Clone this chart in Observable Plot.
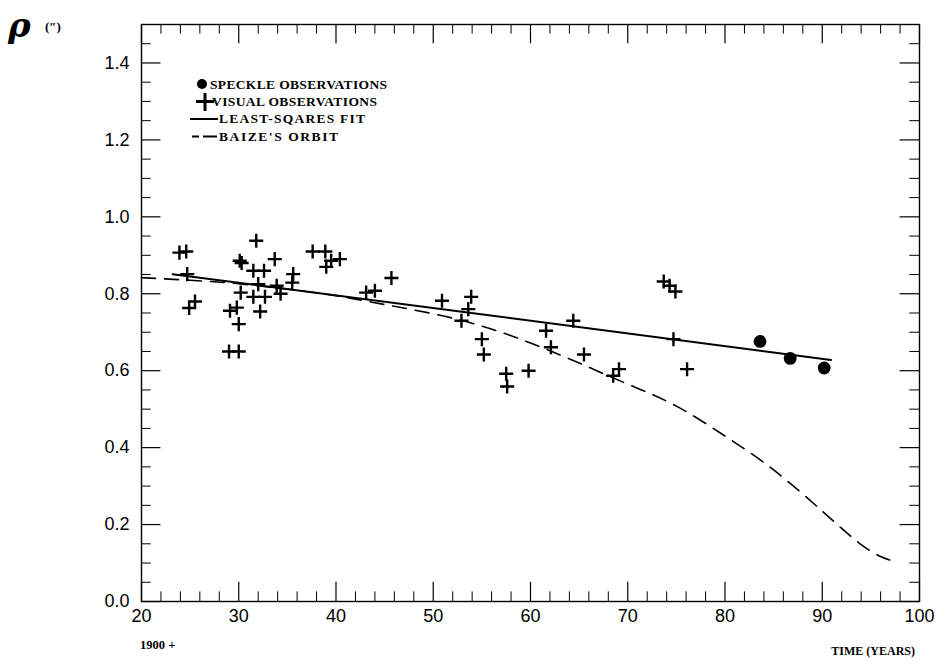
<!DOCTYPE html>
<html><head><meta charset="utf-8">
<script src="https://cdn.jsdelivr.net/npm/d3@7"></script>
<script src="https://cdn.jsdelivr.net/npm/@observablehq/plot@0.6"></script>
<style>body{margin:0;background:#fff}#chart{position:relative;width:943px;height:665px}</style>
</head><body><div id="chart"></div>
<script>
// ---- data ----
const speckleYears = [83.6, 86.7, 90.2];
const speckleRho   = [0.676, 0.632, 0.607];

const visualYears = [23.9, 24.6, 24.7, 24.9, 25.5, 30.1, 30.3, 31.8, 31.5, 32.6, 33.7, 32.0, 30.2, 31.5, 32.7, 33.9, 34.3, 35.6, 35.5, 29.1, 29.8, 30.0, 32.2, 29.0, 30.0, 37.6, 38.9, 39.5, 40.4, 39.0, 43.1, 44.0, 45.7, 50.9, 53.9, 53.6, 52.9, 55.0, 55.2, 57.5, 57.6, 59.8, 61.6, 62.1, 64.4, 65.5, 68.5, 69.1, 73.7, 74.3, 74.9, 74.7, 76.1];
const visualRho   = [0.907, 0.910, 0.851, 0.763, 0.780, 0.886, 0.880, 0.938, 0.860, 0.860, 0.890, 0.825, 0.803, 0.792, 0.792, 0.821, 0.800, 0.851, 0.829, 0.756, 0.764, 0.721, 0.754, 0.650, 0.650, 0.910, 0.910, 0.886, 0.890, 0.870, 0.803, 0.808, 0.841, 0.782, 0.792, 0.760, 0.730, 0.682, 0.642, 0.592, 0.559, 0.600, 0.704, 0.661, 0.730, 0.642, 0.587, 0.604, 0.832, 0.821, 0.806, 0.682, 0.604];

const fitYears = [23.2, 90.9];
const fitRho   = [0.851, 0.628];

const baizeYears = [20, 25, 30, 35, 40, 45, 50, 55, 60, 65, 70, 75, 80, 85, 90, 92, 94, 96, 97.5];
const baizeRho   = [0.842, 0.835, 0.826, 0.812, 0.795, 0.772, 0.748, 0.716, 0.672, 0.620, 0.565, 0.508, 0.430, 0.342, 0.235, 0.190, 0.148, 0.117, 0.104];

const xTickLabels = [20, 30, 40, 50, 60, 70, 80, 90, 100];
const yTickLabels = [0, 0.2, 0.4, 0.6, 0.8, 1.0, 1.2, 1.4];
const xMinorTicks = d3.range(22, 100, 2).filter(v => v % 10 !== 0);
const yMinorTicks = d3.range(0, 31).map(i => i * 0.05).filter(v => Math.abs(v * 5 - Math.round(v * 5)) > 1e-6);

const legendLabels = ["SPECKLE OBSERVATIONS", "VISUAL OBSERVATIONS", "LEAST-SQARES FIT", "BAIZE'S ORBIT"];
const yAxisLabel = "ρ";
const yAxisUnit = "(″)";
const xAxisPrefix = "1900 +";
const xAxisLabel = "TIME (YEARS)";

// ---- tables ----
const speckle = speckleYears.map((x, i) => ({x, y: speckleRho[i]}));
const visual  = visualYears.map((x, i) => ({x, y: visualRho[i]}));
const fit     = fitYears.map((x, i) => ({x, y: fitRho[i]}));
const baize   = baizeYears.map((x, i) => ({x, y: baizeRho[i]}));

const X0 = 20, X1 = 100, Y0 = 0, Y1 = 1.5;

const svg = Plot.plot({
  width: 943,
  height: 665,
  marginLeft: 141,
  marginRight: 24,
  marginTop: 24,
  marginBottom: 64,
  style: {fontFamily: "Liberation Sans, sans-serif", fontSize: "18px", color: "black", background: "white"},
  x: {domain: [X0, X1], ticks: xTickLabels, tickSize: 0, tickPadding: 8, tickFormat: d => String(d), label: null},
  y: {domain: [Y0, Y1], ticks: yTickLabels, tickSize: 0, tickPadding: 12, tickFormat: d3.format(".1f"), label: null},
  marks: [
    // inward ticks on four sides
    Plot.ruleX(xMinorTicks, {x: d => d, y1: () => Y0, y2: () => 0.025, stroke: "black", strokeWidth: 1}),
    Plot.ruleX(xTickLabels, {x: d => d, y1: () => Y0, y2: () => 0.05, stroke: "black", strokeWidth: 1.2}),
    Plot.ruleX(xMinorTicks, {x: d => d, y1: () => Y1, y2: () => 1.475, stroke: "black", strokeWidth: 1}),
    Plot.ruleX(xTickLabels, {x: d => d, y1: () => Y1, y2: () => 1.45, stroke: "black", strokeWidth: 1.2}),
    Plot.ruleY(yMinorTicks, {y: d => d, x1: () => X0, x2: () => 21, stroke: "black", strokeWidth: 1}),
    Plot.ruleY(yTickLabels, {y: d => d, x1: () => X0, x2: () => 22, stroke: "black", strokeWidth: 1.2}),
    Plot.ruleY(yMinorTicks, {y: d => d, x1: () => X1, x2: () => 99, stroke: "black", strokeWidth: 1}),
    Plot.ruleY(yTickLabels, {y: d => d, x1: () => X1, x2: () => 98, stroke: "black", strokeWidth: 1.2}),
    Plot.frame({stroke: "black", strokeWidth: 1.4}),
    Plot.line(baize, {x: "x", y: "y", curve: "natural", stroke: "black", strokeWidth: 1.6, strokeDasharray: "14,9"}),
    Plot.line(fit, {x: "x", y: "y", stroke: "black", strokeWidth: 2}),
    Plot.dot(visual, {x: "x", y: "y", symbol: "plus", r: 4.6, stroke: "black", strokeWidth: 2.4}),
    Plot.dot(speckle, {x: "x", y: "y", r: 6.4, fill: "black", stroke: "none"})
  ]
});

const root = d3.select(svg);
const serif = "Liberation Serif, Times New Roman, serif";
const lg = root.append("g").attr("font-family", serif).attr("font-weight", "bold").attr("font-size", 13.5).attr("fill", "black").attr("text-anchor", "start");
// legend symbols
lg.append("circle").attr("cx", 202).attr("cy", 84).attr("r", 5);
lg.append("path").attr("d", "M196,101.5H214M205,93V111").attr("stroke", "black").attr("stroke-width", 3).attr("fill", "none");
lg.append("path").attr("d", "M190,119H218").attr("stroke", "black").attr("stroke-width", 2);
lg.append("path").attr("d", "M192,136.5H199M203,136.5H217").attr("stroke", "black").attr("stroke-width", 2);
const lx = [210, 212, 219, 219], ly = [88.5, 105.5, 123, 140.5], lw = [177, 165, 146, 119];
legendLabels.forEach((t, i) => lg.append("text").attr("x", lx[i]).attr("y", ly[i]).attr("textLength", lw[i]).attr("lengthAdjust", "spacing").text(t));

// axis annotations
const ann = root.append("g").attr("text-anchor", "start").attr("fill", "black");
ann.append("text").attr("x", 8).attr("y", 37).attr("font-family", "DejaVu Serif, serif").attr("font-style", "italic").attr("font-weight", "bold").attr("font-size", 34).text(yAxisLabel);
ann.append("text").attr("x", 45).attr("y", 31).attr("font-family", serif).attr("font-weight", "bold").attr("font-size", 13).text(yAxisUnit);
ann.append("text").attr("x", 140).attr("y", 649).attr("font-family", serif).attr("font-weight", "bold").attr("font-size", 12.5).text(xAxisPrefix);
ann.append("text").attr("x", 915).attr("y", 655).attr("text-anchor", "end").attr("font-family", serif).attr("font-weight", "bold").attr("font-size", 12).text(xAxisLabel);

document.getElementById("chart").appendChild(svg);
</script>
</body></html>
